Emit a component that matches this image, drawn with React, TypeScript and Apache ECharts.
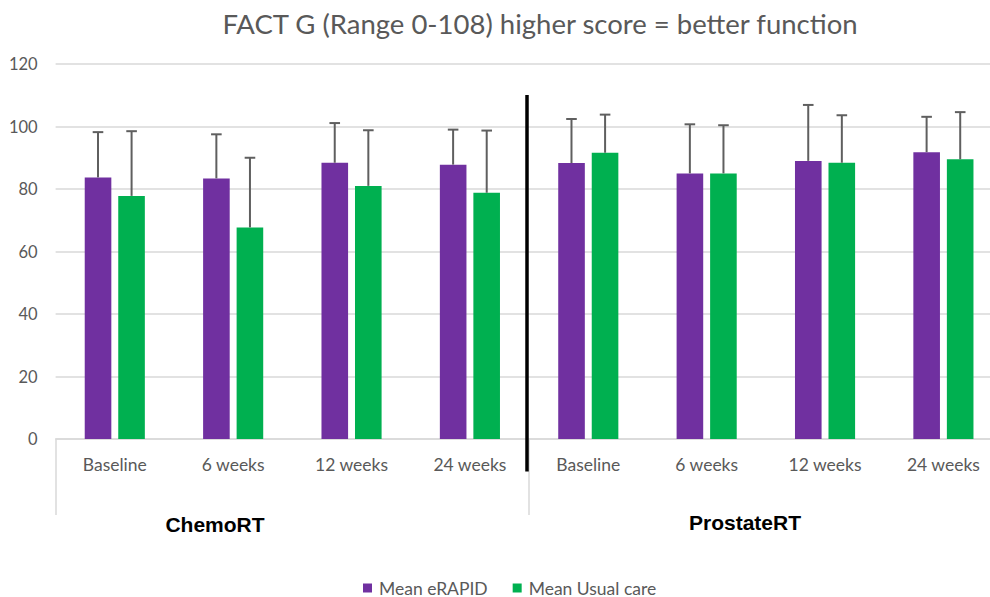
import React, { useEffect, useRef } from "react";
import * as echarts from "echarts";

const groups = ["ChemoRT", "ProstateRT"];
const timepoints = ["Baseline", "6 weeks", "12 weeks", "24 weeks"];
const categories = groups.flatMap((g) => timepoints.map((t) => `${g}|${t}`));
const yTicks = [0, 20, 40, 60, 80, 100, 120];

const seriesNames = ["Mean eRAPID", "Mean Usual care"];
const eRapidMean = [83.7, 83.4, 88.4, 87.8, 88.3, 85.0, 89.0, 91.8];
const usualMean = [77.8, 67.7, 81.0, 78.8, 91.6, 85.0, 88.4, 89.5];
const eRapidUpper = [98.2, 97.5, 101.1, 99.0, 102.4, 100.7, 106.9, 103.1];
const usualUpper = [98.5, 90.0, 98.8, 98.7, 103.8, 100.4, 103.6, 104.6];

const PURPLE = "#7030A0";
const GREEN = "#00B050";
const GREY_TEXT = "#595959";
const FONT = "Lato";

export default function App() {
  const ref = useRef<HTMLDivElement>(null);
  useEffect(() => {
    if (!ref.current) return;
    const chart = echarts.init(ref.current, null, { renderer: "svg" });
    const barWidth = 26.6;
    const offset = 16.8;
    const errSeries = (name: string, means: number[], uppers: number[], dx: number) => ({
      type: "custom",
      name,
      data: means.map((m, i) => [i, m, uppers[i]]),
      z: 5,
      renderItem: (params: any, api: any) => {
        const i = api.value(0);
        const low = api.coord([i, api.value(1)]);
        const high = api.coord([i, api.value(2)]);
        const x = low[0] + dx;
        const cap = 5.3;
        const style = { stroke: "#5f5f5f", lineWidth: 2 };
        return {
          type: "group",
          children: [
            { type: "line", shape: { x1: x, y1: low[1], x2: x, y2: high[1] }, style },
            { type: "line", shape: { x1: x - cap, y1: high[1], x2: x + cap, y2: high[1] }, style },
          ],
        };
      },
    });
    chart.setOption({
      animation: false,
      grid: { left: 55.6, top: 64, width: 947, height: 375, containLabel: false },
      legend: {
        data: seriesNames,
        left: 358,
        top: 574,
        icon: "rect",
        itemWidth: 9,
        itemHeight: 9,
        itemGap: 25,
        textStyle: { color: GREY_TEXT, fontSize: 17.5, fontFamily: FONT, padding: [0, 0, 0, 2] },
      },
      xAxis: {
        type: "category",
        data: categories,
        axisLine: { lineStyle: { color: "#d9d9d9", width: 1.5 } },
        axisTick: { show: false },
        axisLabel: {
          color: GREY_TEXT,
          fontSize: 17.5,
          fontFamily: FONT,
          margin: 16,
          interval: 0,
          formatter: (v: string) => v.split("|")[1],
        },
      },
      yAxis: {
        type: "value",
        min: yTicks[0],
        max: yTicks[yTicks.length - 1],
        interval: 20,
        axisLine: { show: false },
        axisTick: { show: false },
        splitLine: { lineStyle: { color: "#d9d9d9", width: 1.5 } },
        axisLabel: { color: GREY_TEXT, fontSize: 16.5, fontFamily: FONT, margin: 18 },
      },
      series: [
        { type: "bar", name: seriesNames[0], data: eRapidMean, barWidth, barGap: "26%", itemStyle: { color: PURPLE } },
        { type: "bar", name: seriesNames[1], data: usualMean, barWidth, barGap: "26%", itemStyle: { color: GREEN } },
        errSeries("err1", eRapidMean, eRapidUpper, -offset),
        errSeries("err2", usualMean, usualUpper, offset),
      ],
      graphic: [
        {
          type: "text",
          x: 540,
          y: 23,
          style: {
            text: "FACT G (Range 0-108) higher score = better function",
            fill: GREY_TEXT,
            fontSize: 27.5,
            fontFamily: FONT,
            textAlign: "center",
            textVerticalAlign: "middle",
          },
        },
        { type: "line", shape: { x1: 56, y1: 439, x2: 56, y2: 515 }, style: { stroke: "#d9d9d9", lineWidth: 1.5 } },
        { type: "line", shape: { x1: 529, y1: 439, x2: 529, y2: 515 }, style: { stroke: "#d9d9d9", lineWidth: 1.5 } },
        { type: "line", shape: { x1: 527, y1: 95, x2: 527, y2: 471.5 }, style: { stroke: "#000", lineWidth: 3.5 }, z: 10 },
        {
          type: "text",
          x: 215,
          y: 524,
          style: { text: groups[0], fill: "#000", fontSize: 21, fontWeight: "bold", fontFamily: "Liberation Sans", textAlign: "center", textVerticalAlign: "middle" },
        },
        {
          type: "text",
          x: 745,
          y: 522,
          style: { text: groups[1], fill: "#000", fontSize: 21, fontWeight: "bold", fontFamily: "Liberation Sans", textAlign: "center", textVerticalAlign: "middle" },
        },
      ],
    });
    return () => chart.dispose();
  }, []);
  return (
    <div style={{ position: "absolute", left: 0, top: 0, width: 990, height: 597, overflow: "hidden" }}>
      <div ref={ref} style={{ width: 1020, height: 597 }} />
    </div>
  );
}
